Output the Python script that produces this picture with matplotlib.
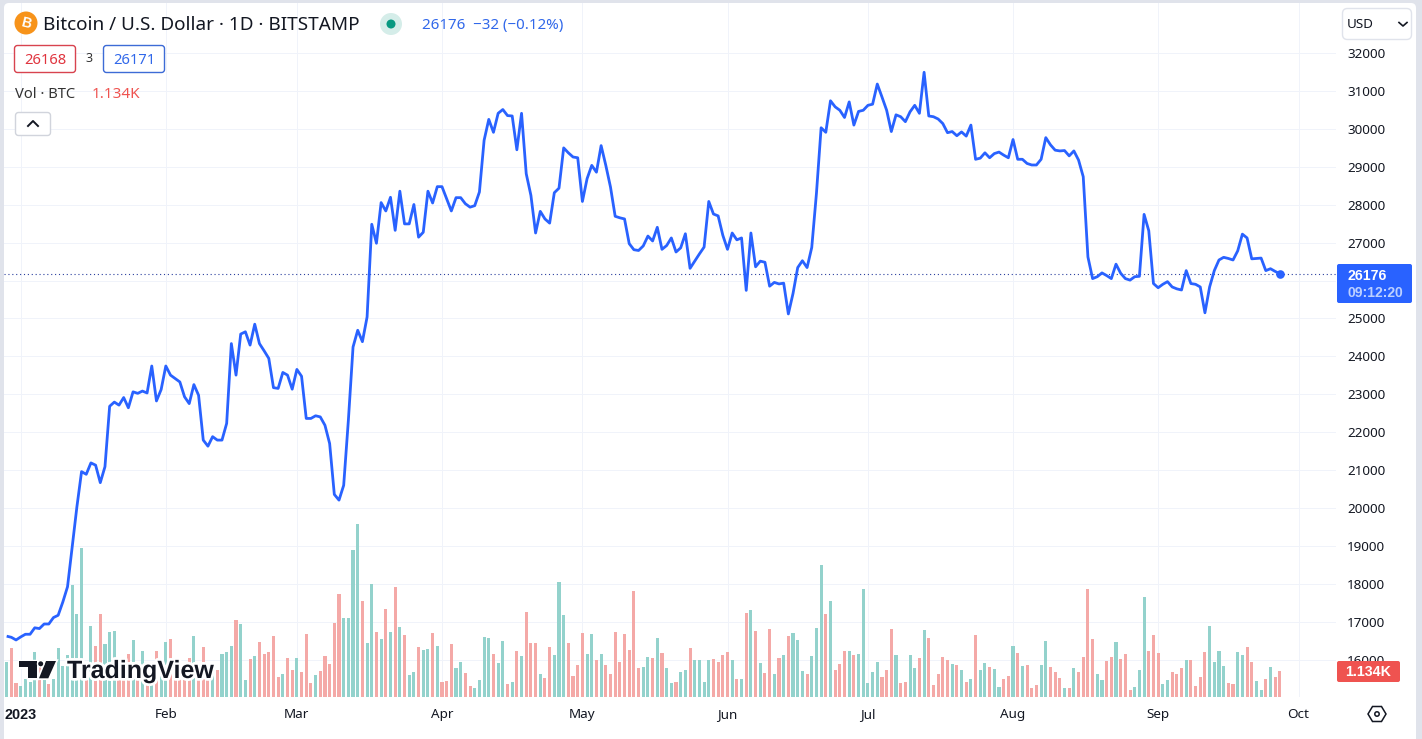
import numpy as np
import pandas as pd
import matplotlib
matplotlib.use('Agg')
import matplotlib.pyplot as plt
import matplotlib.patheffects as pe
from matplotlib.patches import Circle, FancyBboxPatch, Polygon

plt.rcParams['font.family'] = ['Noto Sans', 'DejaVu Sans']

# daily closes
close = [
    16640, 16610, 16540, 16620, 16690, 16690, 16860, 16840, 16960, 16960,
    17130, 17190, 17540, 17940, 18990, 20040, 20970, 20900, 21200, 21140,
    20680, 21100, 22690, 22800, 22720, 22920, 22650, 23070, 23030, 23090,
    23040, 23750, 22830, 23130, 23750, 23510, 23420, 23330, 22940, 22760,
    23260, 22980, 21800, 21640, 21890, 21800, 21800, 22240, 24340, 23510,
    24590, 24650, 24300, 24850, 24340, 24150, 23950, 23180, 23160, 23580,
    23510, 23140, 23660, 23480, 22370, 22370, 22440, 22410, 22190, 21710,
    20370, 20220, 20610, 22320, 24250, 24690, 24390, 25040, 27480, 26980,
    28050, 27830, 28190, 27320, 28350, 27490, 27490, 28000, 27140, 27270,
    28350, 28040, 28470, 28470, 28150, 27830, 28180, 28180, 28020, 27930,
    27970, 28330, 29690, 30240, 29900, 30400, 30500, 30340, 30330, 29440,
    30400, 28810, 28240, 27250, 27820, 27620, 27510, 28310, 28430, 29490,
    29360, 29250, 29230, 28080, 28680, 29030, 28850, 29550, 29030, 28460,
    27690, 27650, 27620, 26970, 26810, 26790, 26910, 27170, 27040, 27400,
    26820, 26920, 27120, 26750, 26860, 27230, 26320, 26510, 26700, 26880,
    28080, 27750, 27700, 27190, 26820, 27250, 27070, 27120, 25740, 27250,
    26360, 26510, 26480, 25850, 25950, 25910, 25930, 25120, 25660, 26340,
    26520, 26340, 26870, 28290, 30020, 29900, 30730, 30570, 30480, 30290,
    30700, 30090, 30450, 30480, 30610, 30640, 31170, 30830, 30480, 29920,
    30360, 30310, 30180, 30440, 30610, 30400, 31480, 30330, 30310, 30250,
    30130, 29890, 29920, 29810, 29910, 29800, 30090, 29190, 29220, 29360,
    29230, 29340, 29380, 29300, 29230, 29710, 29190, 29190, 29080, 29040,
    29040, 29190, 29760, 29570, 29430, 29410, 29420, 29280, 29410, 29170,
    28730, 26620, 26050, 26100, 26200, 26130, 26050, 26430, 26190, 26050,
    26010, 26100, 26110, 27740, 27310, 25920, 25810, 25900, 25970, 25830,
    25780, 25750, 26260, 25920, 25900, 25830, 25150, 25830, 26260, 26540,
    26610, 26580, 26540, 26780, 27220, 27120, 26570, 26580, 26590, 26260,
    26310, 26240, 26176,
]

# daily volume in BTC
volume = [
    1530, 2140, 600, 480, 800, 650, 1950, 1310, 870, 570,
    800, 2120, 1340, 1820, 4870, 3600, 6480, 1310, 3080, 2210,
    3600, 2300, 2820, 2860, 1310, 1160, 1860, 2470, 1160, 1990,
    1020, 1530, 1990, 1160, 2380, 2510, 1160, 1310, 1450, 1690,
    2640, 1450, 2160, 1310, 1310, 1160, 1860, 1950, 2210, 3340,
    3170, 730, 1640, 1770, 2380, 1860, 1950, 2640, 860, 990,
    1690, 1160, 1690, 1080, 2730, 600, 940, 1120, 1770, 1420,
    3210, 4480, 3430, 3430, 6390, 7530, 4170, 2340, 4910, 2820,
    2510, 3820, 2820, 4780, 3040, 2690, 940, 1080, 2160, 2030,
    2080, 2780, 2210, 640, 680, 2300, 1250, 1510, 1030, 460,
    410, 730, 2600, 2560, 1860, 1470, 2430, 550, 640, 1990,
    1770, 3690, 2340, 2340, 990, 810, 2160, 1820, 5000, 3560,
    2340, 900, 1380, 2780, 1860, 2730, 1600, 1860, 1380, 990,
    2820, 1510, 2730, 2030, 4610, 1250, 1290, 1730, 1690, 2560,
    1900, 1250, 600, 640, 1080, 1160, 2120, 1600, 1600, 640,
    1600, 1640, 1510, 1820, 1950, 1600, 770, 770, 3650, 3780,
    2860, 1470, 1030, 2950, 990, 1690, 1820, 2640, 2780, 2470,
    1120, 990, 1770, 2990, 5740, 3600, 4170, 1160, 1420, 1990,
    1990, 1820, 1860, 4690, 600, 1080, 1510, 860, 1160, 2950,
    1820, 600, 640, 1820, 1250, 1690, 2910, 2560, 510, 990,
    1730, 1600, 1420, 1380, 1160, 640, 770, 2690, 1160, 1470,
    1290, 1210, 420, 770, 900, 2210, 1900, 1340, 1380, 380,
    510, 1380, 2430, 1290, 1080, 810, 380, 380, 1250, 1080,
    1730, 4690, 2510, 990, 730, 1550, 1730, 2380, 1640, 1860,
    290, 420, 1160, 4340, 1990, 2690, 1900, 550, 730, 1080,
    990, 1250, 1600, 1600, 460, 860, 1950, 3080, 1510, 1990,
    1340, 600, 550, 1950, 1820, 2160, 1510, 680, 290, 770,
    1290, 860, 1134,
]

# t = up day, r = down day
direction = (
    "trrttttrtr" "tttttttrtr" "rtttrrrtrt" "rtrttrrrrr" "trrrtrtttr"
    "ttrtrrrrrt" "rrtrrrtrrr" "rrttttrttr" "trtrtrttrt" "trtrrrttrr"
    "tt"
    "ttrttrtrtr" "rrtrrtttrr" "rrttrtrrrr" "rrrrttrtrt" "trttrttttr"
    "rrrtrtrtrt" "rrtrtrtttr" "tttrtrrrtr" "tttttrrrtr" "rttrtrrrrr"
    "trtrtrttrt" "trrtrtrrrt" "trrrtrtrrr" "rttrrtrrrt" "ttrrrttrrr"
    "trrrrttttr" "rttrrttrtr" "r"
)

price_ticks = list(range(16000, 33000, 1000))
month_ticks = ['2023-01-01', '2023-02-01', '2023-03-01', '2023-04-01', '2023-05-01',
               '2023-06-01', '2023-07-01', '2023-08-01', '2023-09-01', '2023-10-01']
month_labels = ['2023', 'Feb', 'Mar', 'Apr', 'May', 'Jun', 'Jul', 'Aug', 'Sep', 'Oct']

dates = pd.date_range('2022-12-29', periods=len(close))
BLUE = '#2962ff'
INK = '#131722'
BOLD = ['Liberation Sans', 'DejaVu Sans']

fig = plt.figure(figsize=(14.22, 7.39), dpi=100, facecolor='#e0e3eb')
W, H = 1422, 739


def px_axes(x0, y0, x1, y1, **kw):
    return fig.add_axes([x0 / W, 1 - y1 / H, (x1 - x0) / W, (y1 - y0) / H], **kw)


# white panel on the grey page
back = px_axes(0, 0, W, H, zorder=0)
back.set_xlim(0, W)
back.set_ylim(H, 0)
back.axis('off')
back.add_patch(FancyBboxPatch((4, 3), 1412, 760, boxstyle='round,pad=0,rounding_size=5',
                              fc='white', ec='none'))

# grid / ticks, volume and line on three stacked axes so the order is grid < bars < line
ax = px_axes(4, 3, 1336, 697, zorder=1)
ax.patch.set_visible(False)
x_left = pd.Timestamp('2023-01-01') - pd.Timedelta(days=3.57)
x_right = pd.Timestamp('2023-01-01') + pd.Timedelta(days=281)
price_lim = (15039, 33303)
ax.set_xlim(x_left, x_right)
ax.set_ylim(*price_lim)
ax.set_yticks(price_ticks)
# the 26000 label sits behind the last price tag in the original
ax.set_yticklabels(['' if p == 26000 else str(p) for p in price_ticks])
ax.set_xticks(pd.to_datetime(month_ticks))
ax.set_xticklabels(month_labels)
ax.yaxis.tick_right()
ax.grid(True, color='#f0f3fa', lw=0.72)
ax.set_axisbelow(True)
ax.tick_params(axis='y', length=0, pad=8, labelsize=9.7, labelcolor=INK)
ax.tick_params(axis='x', length=0, pad=8, labelsize=9.7, labelcolor=INK)
year_label = ax.get_xticklabels()[0]
year_label.set_fontweight('bold')
year_label.set_family(BOLD)
year_label.set_fontsize(10.4)
for s in ax.spines.values():
    s.set_visible(False)

ax_vol = px_axes(4, 3, 1336, 697, zorder=2, sharex=ax)
ax_vol.patch.set_visible(False)
ax_vol.set_ylim(0, 30260)
bar_colors = ['#93d2cc' if d == 't' else '#f4a9a7' for d in direction]
ax_vol.bar(dates, volume, width=0.66, color=bar_colors, linewidth=0)
ax_vol.axis('off')

ax_line = px_axes(4, 3, 1336, 697, zorder=3, sharex=ax)
ax_line.patch.set_visible(False)
ax_line.set_ylim(*price_lim)
ax_line.axhline(close[-1], color='#2a3f9e', lw=0.8, ls=(0, (1, 2.5)))
ax_line.plot(dates, close, color=BLUE, lw=2.0, solid_joinstyle='round', solid_capstyle='butt')
ax_line.plot(dates[-1], close[-1], 'o', color=BLUE, ms=6.2, mew=0)
ax_line.axis('off')

# overlay in pixel coords for the page furniture
ov = px_axes(0, 0, W, H, zorder=5)
ov.patch.set_visible(False)
ov.set_xlim(0, W)
ov.set_ylim(H, 0)
ov.axis('off')


def label(x, y, s, size=9.7, color=INK, ha='left', **kw):
    return ov.text(x, y, s, fontsize=size, color=color, ha=ha, va='center', **kw)


def box(x0, y0, x1, y1, fc='white', ec='none', r=3, lw=1.0):
    ov.add_patch(FancyBboxPatch((x0, y0), x1 - x0, y1 - y0, boxstyle=f'round,pad=0,rounding_size={r}',
                                fc=fc, ec=ec, lw=lw))


# header
ov.add_patch(Circle((26, 23), 11.5, fc='#f7931a', ec='none'))
label(26, 23.5, 'B', size=10, color='white', ha='center', fontweight='bold', family=BOLD, rotation=-14)
label(43, 25, 'Bitcoin / U.S. Dollar · 1D · BITSTAMP', size=13.6)
ov.add_patch(Circle((391, 24), 11, fc='#d5ede9', ec='none'))
ov.add_patch(Circle((391, 24), 4.5, fc='#089981', ec='none'))
label(422, 25, '26176  −32 (−0.12%)', size=10.9, color='#3168ea')

box(14.5, 45.5, 75.5, 72.5, ec='#d8434f')
label(45, 60, '26168', size=10.6, color='#e0353f', ha='center')
label(89, 59, '3', size=9, ha='center', color='#333333')
box(103.5, 45.5, 164.5, 72.5, ec='#3d6bd6')
label(134, 60, '26171', size=10.6, color='#3168ea', ha='center')

label(15, 94, 'Vol · BTC', size=10.6, color='#333333')
label(92, 94, '1.134K', size=11, color='#ef5350')
box(15.5, 112.5, 50.5, 135.5, ec='#d1d4dc')
ov.plot([28, 33, 38], [126, 121, 126], color=INK, lw=1.4)

# currency selector
box(1342.5, 8.5, 1411.5, 39.5, ec='#e0e3eb', r=5)
label(1347, 25, 'USD', size=9.7)
ov.plot([1399, 1403, 1407], [22.5, 26, 22.5], color=INK, lw=1.2)

# last price tags
box(1337, 264, 1412, 303, fc=BLUE, r=2)
label(1347, 275.5, '26176', size=10.2, color='white', fontweight='bold', family=BOLD)
label(1347, 293, '09:12:20', size=10, color='#bcd0ff', fontweight='bold', family=BOLD)
box(1337, 661, 1400, 682, fc='#ef5350', r=2)
label(1368.5, 672, '1.134K', size=10.2, color='white', ha='center', fontweight='bold', family=BOLD)

# settings hexagon
ov.add_patch(Polygon([(1368, 714), (1372.5, 706.5), (1381.5, 706.5), (1386, 714), (1381.5, 721.5), (1372.5, 721.5)],
                     closed=True, fc='none', ec=INK, lw=1.1))
ov.add_patch(Circle((1377, 714), 2.2, fc='none', ec=INK, lw=1.1))

# TradingView logo
logo = '#131722'
shapes = ([(19, 661), (36.7, 661), (36.7, 678.3), (28.3, 678.3), (28.3, 667), (19, 667)],
          [(46, 661), (56, 661), (48.3, 678.3), (39, 678.3)])
for shape in shapes:
    ov.add_patch(Polygon(shape, closed=True, fc='white', ec='white', lw=2.5, zorder=3))
    ov.add_patch(Polygon(shape, closed=True, fc=logo, ec='none', zorder=4))
ov.add_patch(Circle((40.7, 663.8), 3.2, fc=logo, ec='white', lw=1.0, zorder=5))
ov.text(67, 671, 'TradingView', fontsize=18, color=logo, fontweight='bold', ha='left', va='center',
        family=BOLD, path_effects=[pe.withStroke(linewidth=4, foreground='white')], zorder=6)

fig.savefig('out.png', dpi=100, facecolor=fig.get_facecolor())
